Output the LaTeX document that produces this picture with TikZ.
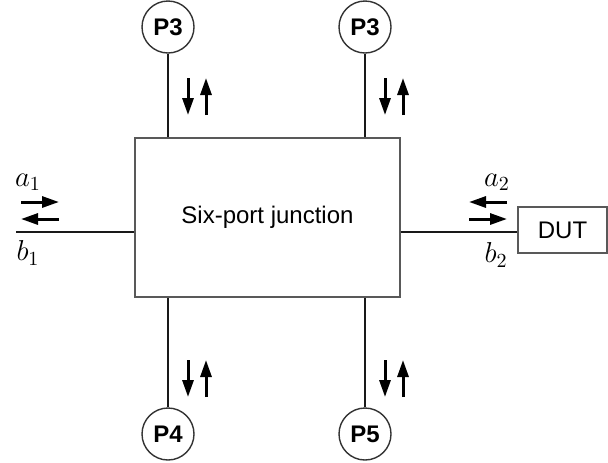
\documentclass[tikz,border=0pt]{standalone}
\usepackage{fontspec}
\setmainfont{Liberation Sans}
\usetikzlibrary{arrows.meta}
\tikzset{
  junction/.style={draw=black!65, line width=0.8pt, minimum width=132.5pt, minimum height=79.5pt, inner sep=0pt, font=\fontsize{12}{14}\selectfont},
  port/.style={circle, draw=black!80, line width=0.7pt, minimum size=26pt, inner sep=0pt, font=\fontsize{12}{14}\selectfont\bfseries},
  dutbox/.style={draw=black!65, line width=0.7pt, minimum width=44.5pt, minimum height=23pt, inner sep=0pt, font=\fontsize{12}{14}\selectfont},
  line/.style={line width=1.3pt, draw=black!90},
  flow/.style={line width=1.5pt, -{Triangle[length=8.5pt, width=5.5pt]}},
  wave/.style={font=\fontsize{14}{16}\selectfont},
}

\begin{document}
\begin{tikzpicture}[x=0.5pt, y=-0.5pt]
\useasboundingbox (0,0) rectangle (608,462);
\node[junction] (sp) at (267.5,217.5) {Six-port junction};
\node[port] (p3a) at (168,27) {P3};
\node[port] (p3b) at (365,27) {P3};
\node[port] (p4) at (168,434) {P4};
\node[port] (p5) at (365,434) {P5};
\node[dutbox] (dut) at (562.5,230) {DUT};
\coordinate (inport) at (16,232);
\draw[line] (inport) -- (inport -| sp.west);
\draw[line] (sp.east |- inport) -- (dut.west |- inport);
\draw[line] (p3a) -- (p3a |- sp.north);
\draw[line] (p3b) -- (p3b |- sp.north);
\draw[line] (p4) -- (p4 |- sp.south);
\draw[line] (p5) -- (p5 |- sp.south);
% waves on the side ports
\node[wave] (a1) at (28,182) {$a_1$};
\node[wave] (b1) at (28,253) {$b_1$};
\node[wave] (a2) at (497,182) {$a_2$};
\node[wave] (b2) at (496,255) {$b_2$};
\draw[flow] (21,202) -- (59,202);
\draw[flow] (59,219) -- (21,219);
\draw[flow] (507,202) -- (469,202);
\draw[flow] (469,219) -- (507,219);
% waves on the detector ports
\foreach \x in {168,365} {
  \draw[flow] (\x+20,78) -- (\x+20,115);
  \draw[flow] (\x+38,115) -- (\x+38,78);
  \draw[flow] (\x+20,360) -- (\x+20,397);
  \draw[flow] (\x+38,397) -- (\x+38,360);
}
\end{tikzpicture}
\end{document}
